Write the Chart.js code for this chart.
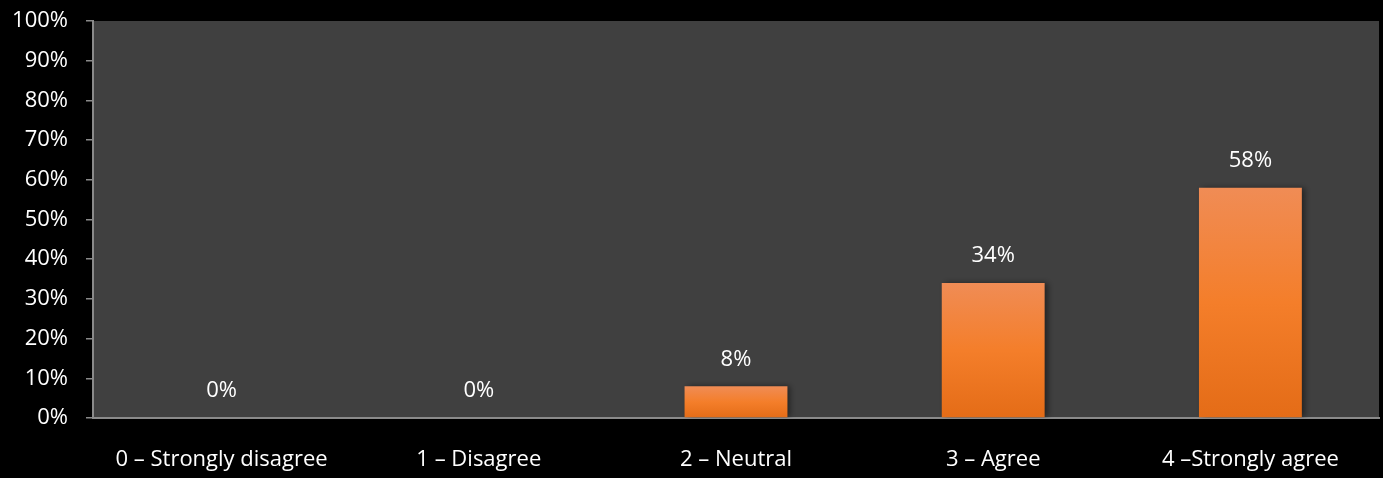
<!DOCTYPE html>
<html>
<head>
<meta charset="utf-8">
<script src="https://cdn.jsdelivr.net/npm/chart.js@4"></script>
<style>
  html, body { margin: 0; padding: 0; background: #000; }
  #wrap { width: 1383px; height: 478px; }
</style>
</head>
<body>
<div id="wrap"><canvas id="chart" width="1383" height="478"></canvas></div>
<script>
// chart data
const categories = ['0 \u2013 Strongly disagree', '1 \u2013 Disagree', '2 \u2013 Neutral', '3 \u2013 Agree', '4 \u2013Strongly agree'];
const percentValues = [0, 0, 8, 34, 58];
const yTicks = [0, 10, 20, 30, 40, 50, 60, 70, 80, 90, 100];

const fontFamily = '"Open Sans", sans-serif';
const fontSize = 22;

// fill the plot area grey
const plotBackground = {
    id: 'plotBackground',
    beforeDraw(chart) {
        let ctx = chart.ctx;
        let a = chart.chartArea;
        ctx.save();
        ctx.fillStyle = '#404040';
        ctx.fillRect(a.left, a.top, a.right - a.left, a.bottom - a.top);
        ctx.restore();
    }
};

// soft shadow on the right side of the bars
const barShadow = {
    id: 'barShadow',
    beforeDatasetDraw(chart) {
        let ctx = chart.ctx;
        ctx.save();
        ctx.shadowColor = 'rgba(0, 0, 0, 0.45)';
        ctx.shadowBlur = 6;
        ctx.shadowOffsetX = 3;
        ctx.shadowOffsetY = 0;
    },
    afterDatasetDraw(chart) {
        chart.ctx.restore();
    }
};

// percentage labels above each bar
const valueLabels = {
    id: 'valueLabels',
    afterDatasetsDraw(chart) {
        let ctx = chart.ctx;
        let meta = chart.getDatasetMeta(0);
        ctx.save();
        ctx.fillStyle = '#ffffff';
        ctx.font = fontSize + 'px ' + fontFamily;
        ctx.textAlign = 'center';
        ctx.textBaseline = 'middle';
        meta.data.forEach((bar, i) => {
            ctx.fillText(percentValues[i] + '%', bar.x, bar.y - 27);
        });
        ctx.restore();
    }
};

function barGradient(context) {
    let chart = context.chart;
    let a = chart.chartArea;
    if (!a || !chart.scales.y) return '#f47e2a';
    let top = chart.scales.y.getPixelForValue(percentValues[context.dataIndex]);
    if (a.bottom - top < 1) top = a.bottom - 1;
    let g = chart.ctx.createLinearGradient(0, top, 0, a.bottom);
    g.addColorStop(0, '#f08c55');
    g.addColorStop(0.5, '#f47e2a');
    g.addColorStop(1, '#e46c17');
    return g;
}

new Chart(document.getElementById('chart').getContext('2d'), {
    type: 'bar',
    data: {
        labels: categories,
        datasets: [{
            data: percentValues,
            backgroundColor: barGradient,
            borderWidth: 0,
            categoryPercentage: 0.8,
            barPercentage: 0.5
        }]
    },
    options: {
        responsive: false,
        animation: false,
        layout: { padding: { top: 21, right: 4, left: 0, bottom: 0 } },
        plugins: {
            legend: { display: false },
            tooltip: { enabled: false }
        },
        scales: {
            x: {
                grid: { display: false, drawTicks: false },
                border: { display: true, color: '#8a8a8a', width: 2 },
                ticks: {
                    color: '#ffffff',
                    font: { family: fontFamily, size: fontSize },
                    padding: 29,
                    maxRotation: 0
                },
                afterFit(scale) {
                    scale.height = 60;
                    scale.paddingLeft = 0;
                    scale.paddingRight = 0;
                }
            },
            y: {
                min: 0,
                max: 100,
                afterBuildTicks(scale) {
                    scale.ticks = yTicks.map(v => ({ value: v }));
                },
                grid: {
                    drawOnChartArea: false,
                    drawTicks: true,
                    tickLength: 7,
                    color: '#8a8a8a',
                    lineWidth: 1.5
                },
                border: { display: true, color: '#8a8a8a', width: 2 },
                ticks: {
                    color: '#ffffff',
                    font: { family: fontFamily, size: fontSize },
                    padding: 18,
                    callback: v => v + '%'
                },
                afterFit(scale) {
                    scale.width = 93;
                    scale.paddingTop = 0;
                    scale.paddingBottom = 0;
                }
            }
        }
    },
    plugins: [plotBackground, barShadow, valueLabels]
});
</script>
</body>
</html>
